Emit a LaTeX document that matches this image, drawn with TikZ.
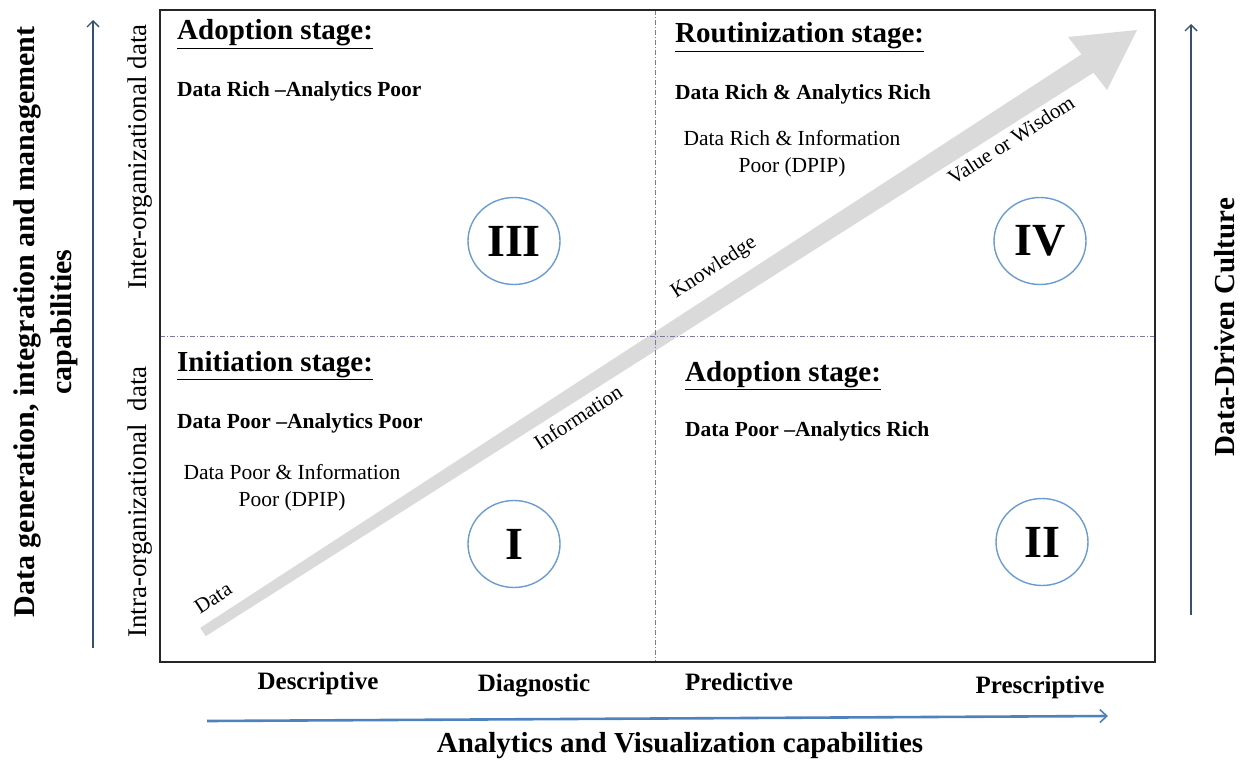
\documentclass[tikz,border=0pt]{standalone}
\usepackage{fontspec}
\setmainfont{Liberation Serif}
\usetikzlibrary{arrows.meta,shapes.geometric}

\definecolor{axisnavy}{RGB}{52,82,112}
\definecolor{axisblue}{RGB}{79,129,189}
\definecolor{ringblue}{RGB}{106,155,209}
\definecolor{divgray}{RGB}{128,118,160}
\definecolor{flowgray}{RGB}{218,218,218}
\newcommand{\fsz}[1]{\fontsize{#1}{#1}\selectfont}

\begin{document}
\begin{tikzpicture}[x=1pt,y=-1pt,
		stage/.style={anchor=base west, inner sep=0pt, font=\fsz{29}\bfseries},
		status/.style={anchor=base west, inner sep=0pt, font=\fsz{21.5}\bfseries},
		note/.style={align=center, inner sep=0pt, font=\fontsize{21.5}{27}\selectfont},
		ring/.style={ellipse, draw=ringblue, line width=1.4pt, minimum width=92pt, minimum height=87pt, inner sep=0pt, font=\fsz{46}\bfseries},
		flow/.style={inner sep=0pt, rotate=33, font=\fsz{21}},
		level/.style={anchor=base, inner sep=0pt, font=\fsz{25}\bfseries},
		side/.style={rotate=90, inner sep=0pt, font=\fsz{27}},
		divider/.style={divgray, line width=0.8pt, dash pattern=on 5pt off 2pt on 1pt off 2pt}]
	\useasboundingbox (0,0) rectangle (1244,760);

	% big gray flow arrow
	\fill[flowgray] (200.3,627.8) -- (1081.5,54.3) -- (1068,37) -- (1137,30) -- (1107,90) -- (1093.5,72.7) -- (205.7,636.2) -- cycle;

	% frame and quadrant lines
	\draw[divider] (655,10) -- (655,662);
	\draw[divider] (160,336) -- (1155,336);
	\draw[black!85, line width=1.5pt] (160,10) rectangle (1155,662);

	% quadrant III
	\node[stage] (S3) at (177,40) {\underline{Adoption stage:}};
	\node[status] (T3) at (177,96) {Data Rich –Analytics Poor};
	\node[ring] (R3) at (514,241) {III};

	% quadrant IV
	\node[stage] (S4) at (675,43) {\underline{Routinization stage:}};
	\node[status] (T4) at (675,99) {Data Rich \& Analytics Rich};
	\node[note] (N4) at (792,154) {Data Rich \& Information\\Poor (DPIP)};
	\node[ring] (R4) at (1040,241) {IV};

	% quadrant I
	\node[stage] (S1) at (177,371) {\underline{Initiation stage:}};
	\node[status] (T1) at (177,428) {Data Poor –Analytics Poor};
	\node[note] (N1) at (292,488) {Data Poor \& Information\\Poor (DPIP)};
	\node[ring] (R1) at (514,544) {I};

	% quadrant II
	\node[stage] (S2) at (685,381) {\underline{Adoption stage:}};
	\node[status] (T2) at (685,436) {Data Poor –Analytics Rich};
	\node[ring] (R2) at (1042,542) {II};

	% labels along the flow
	\node[flow] (F1) at (213,598) {Data};
	\node[flow] (F2) at (578,417) {Information};
	\node[flow] (F3) at (714,268) {Knowledge};
	\node[flow] (F4) at (1011,140) {Value or Wisdom};

	% bottom axis
	\node[level] (D1) at (318,689) {Descriptive};
	\node[level] (D2) at (534,691) {Diagnostic};
	\node[level] (D3) at (739,690) {Predictive};
	\node[level] (D4) at (1040,693) {Prescriptive};
	\coordinate (B0) at (207,721);
	\coordinate (B1) at (1108,716);
	\draw[axisblue, line width=2.6pt, -{Straight Barb[length=7pt,width=13pt,line width=1.6pt]}] (B0) -- (B1);
	\node[anchor=base, inner sep=0pt, font=\fsz{29}\bfseries] (AX) at (680,752) {Analytics and Visualization capabilities};

	% left axis
	\node[rotate=90, align=center, inner sep=0pt, font=\fontsize{30}{37}\selectfont\bfseries] (AY) at (46,322) {Data generation, integration and management\\capabilities};
	\coordinate (L0) at (93,648);
	\coordinate (L1) at (93,20);
	\draw[axisnavy, line width=1.8pt, -{Straight Barb[length=6pt,width=12pt,line width=1.4pt]}] (L0) -- (L1);
	\node[side] (E1) at (140,157) {Inter-organizational data};
	\node[side] (E2) at (140,502) {Intra-organizational\hspace{0.45em}data};

	% right axis
	\coordinate (C0) at (1191,615);
	\coordinate (C1) at (1191,24);
	\draw[axisnavy, line width=1.8pt, -{Straight Barb[length=6pt,width=12pt,line width=1.4pt]}] (C0) -- (C1);
	\node[rotate=90, inner sep=0pt, font=\fsz{29}\bfseries] (DC) at (1225,327) {Data-Driven Culture};
\end{tikzpicture}
\end{document}
